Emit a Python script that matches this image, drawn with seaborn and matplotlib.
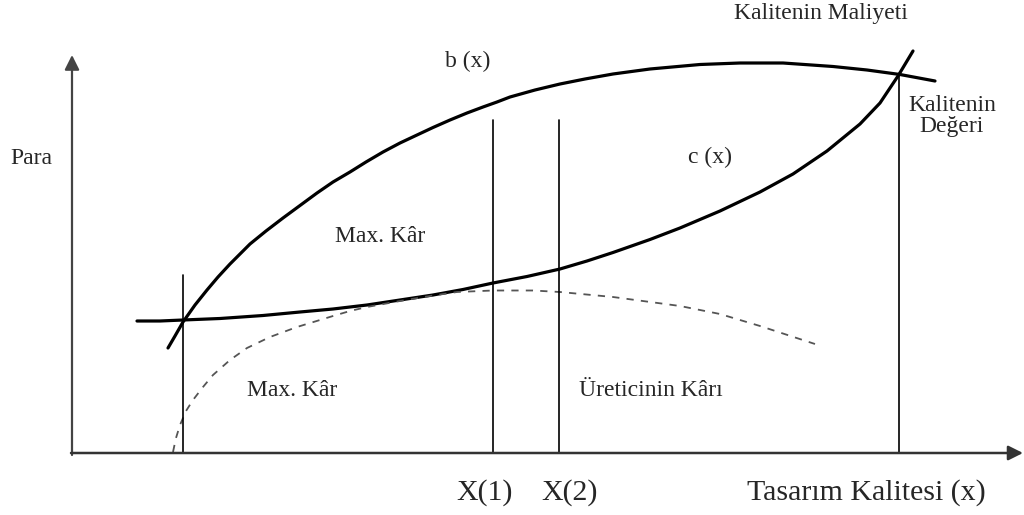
import numpy as np
import pandas as pd
import matplotlib
matplotlib.use("Agg")
import matplotlib.pyplot as plt
import seaborn as sns

sns.set_theme(style="white")
plt.rcParams["font.family"] = ["Liberation Serif", "DejaVu Serif"]

# ── Curves read off the picture (x right, y measured downward from top) ──────
# b(x): value of quality
b_x = [168, 175, 183, 195, 207, 218, 230, 240, 250, 266, 283, 300, 317, 333,
       350, 366, 383, 400, 417, 433, 450, 467, 483, 497, 510, 535, 560, 585,
       613, 650, 700, 740, 783, 833, 867, 900, 935]
b_y = [348, 336, 322, 305, 290, 277, 264, 254, 244, 231, 218, 205.5, 193, 182,
       172, 162, 152, 143, 135, 127.5, 120, 113, 107, 102, 97, 90, 84, 79,
       74, 69, 64.5, 63, 63, 66.5, 70, 74.5, 81]

# c(x): cost of quality
c_x = [137, 160, 183, 220, 263, 300, 333, 367, 400, 433, 463, 493, 527, 560,
       587, 613, 650, 680, 720, 760, 793, 827, 860, 880, 898, 913]
c_y = [321, 321, 320, 318.5, 315.5, 312, 309, 305, 300, 295, 289.5, 283, 276.5,
       269, 261, 252.5, 239.5, 228, 211, 192, 174, 151, 124, 103, 76, 51]

# dashed: producer's profit
d_x = [173, 176, 180, 186, 193, 203, 213, 230, 247, 270, 297, 320, 333, 350,
       367, 400, 430, 457, 493, 533, 560, 613, 680, 720, 760, 815]
d_y = [452, 438, 425, 411, 400, 387, 375, 360, 348, 337, 327, 320, 316, 311,
       307, 301, 296, 292, 290.5, 290.5, 292, 297, 306, 314, 326, 344]

# vertical guide lines: x position and top end
vline_x = [183, 493, 559, 899]
vline_top = [275, 120, 120, 75]
AXIS_Y = 453
AXIS_X = 72

fig = plt.figure(figsize=(10.24, 5.15), dpi=100)
ax = fig.add_axes([0, 0, 1, 1])
ax.set_xlim(0, 1024)
ax.set_ylim(515, 0)
ax.axis("off")

sns.lineplot(x=b_x, y=b_y, sort=False, estimator=None, ax=ax,
             color="black", linewidth=2.3)
sns.lineplot(x=c_x, y=c_y, sort=False, estimator=None, ax=ax,
             color="black", linewidth=2.3)
sns.lineplot(x=d_x, y=d_y, sort=False, estimator=None, ax=ax,
             color="#555555", linewidth=1.3)
ax.lines[-1].set_dashes([4, 4])

for vx, vt in zip(vline_x, vline_top):
    ax.plot([vx, vx], [vt, AXIS_Y], color="black", linewidth=1.2)

# axes with arrows
ax.annotate("", xy=(AXIS_X, 55), xytext=(AXIS_X, AXIS_Y + 2),
            arrowprops=dict(arrowstyle="-|>", color="#444444", lw=1.6,
                            mutation_scale=22, shrinkA=0, shrinkB=0))
ax.annotate("", xy=(1023, AXIS_Y), xytext=(AXIS_X - 1, AXIS_Y),
            arrowprops=dict(arrowstyle="-|>", color="#333333", lw=1.8,
                            mutation_scale=22, shrinkA=0, shrinkB=0))

small = 17
big = 21.5
ax.text(31, 158, "Para", fontsize=small, ha="center", va="center")
ax.text(468, 61, "b (x)", fontsize=small, ha="center", va="center")
ax.text(821, 14, "Kalitenin Maliyeti", fontsize=small, ha="center", va="center")
ax.text(952, 116, "Kalitenin\nDeğeri", fontsize=small, ha="center", va="center",
        linespacing=1.05)
ax.text(710, 157, "c (x)", fontsize=small, ha="center", va="center")
ax.text(380, 236, "Max. Kâr", fontsize=small, ha="center", va="center")
ax.text(292, 390, "Max. Kâr", fontsize=small, ha="center", va="center")
ax.text(651, 390, "Üreticinin Kârı", fontsize=small, ha="center", va="center")
ax.text(485, 493, "X(1)", fontsize=big, ha="center", va="center")
ax.text(570, 493, "X(2)", fontsize=big, ha="center", va="center")
ax.text(866, 493, "Tasarım Kalitesi (x)", fontsize=big, ha="center", va="center")

fig.savefig("out.png", dpi=100, facecolor="white")
